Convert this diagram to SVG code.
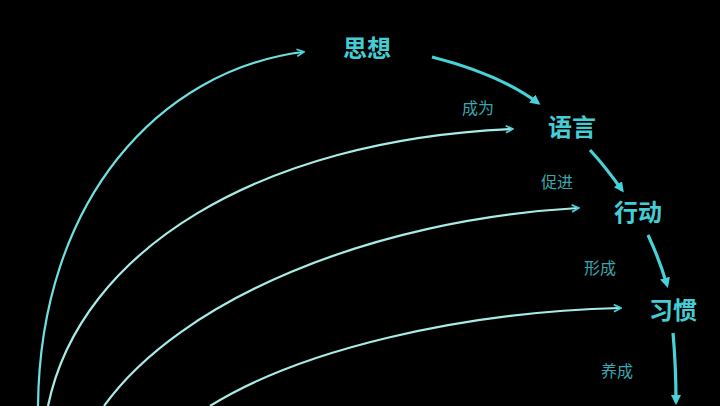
<svg xmlns="http://www.w3.org/2000/svg" width="720" height="406" viewBox="0 0 720 406">
<defs>
<marker id="ah" viewBox="0 0 10 10" refX="8" refY="5" markerWidth="4" markerHeight="4" orient="auto" markerUnits="strokeWidth">
<path d="M1,1 L9,5 L1,9" fill="none" stroke="#46d2d8" stroke-width="2"/>
</marker>
<marker id="ahb" viewBox="0 0 10 10" refX="7" refY="5" markerWidth="3.2" markerHeight="3.2" orient="auto" markerUnits="strokeWidth">
<path d="M0,0 L10,5 L0,10 Z" fill="#46d2d8"/>
</marker>
</defs>
<style>
.node{font-family:"Noto Sans CJK SC","Noto Sans",sans-serif;font-weight:bold;font-size:24px;fill:#44cdd5;text-anchor:middle}
.lbl{font-family:"Noto Sans CJK SC","Noto Sans",sans-serif;font-size:16px;fill:#3aa7ae;text-anchor:middle}
.arc{fill:none;stroke:#a8ece8;stroke-width:2.2;marker-end:url(#ah)}
.flow{fill:none;stroke:#46d2d8;stroke-width:3.2;marker-end:url(#ahb)}
</style>
<rect width="720" height="406" fill="#000"/>
<g id="connectors">
<path class="arc" d="M38,406 C40,200 160,70 303,52" style="stroke:#6ee0e0"/>
<path class="arc" d="M48,406 C80,250 260,140 512,129"/>
<path class="arc" d="M104,406 C180,300 370,220 578,208"/>
<path class="arc" d="M210,406 C300,350 460,312 620,308"/>
<path class="flow" d="M432,57 C475,68 510,82 538,103"/>
<path class="flow" d="M590,150 C602,163 612,176 622,190"/>
<path class="flow" d="M648,235 C656,252 662,268 667,285"/>
<path class="flow" d="M673,333 C675,355 676,378 676,402"/>
</g>
<g id="n-sixiang"><text class="node" x="367" y="57">思想</text></g>
<g id="n-yuyan"><text class="node" x="572" y="136">语言</text></g>
<g id="n-xingdong"><text class="node" x="638" y="221">行动</text></g>
<g id="n-xiguan"><text class="node" x="673" y="319">习惯</text></g>
<g id="l-chengwei"><text class="lbl" x="478" y="114">成为</text></g>
<g id="l-cujin"><text class="lbl" x="557" y="188">促进</text></g>
<g id="l-xingcheng"><text class="lbl" x="600" y="274">形成</text></g>
<g id="l-yangcheng"><text class="lbl" x="617" y="377">养成</text></g>
</svg>
